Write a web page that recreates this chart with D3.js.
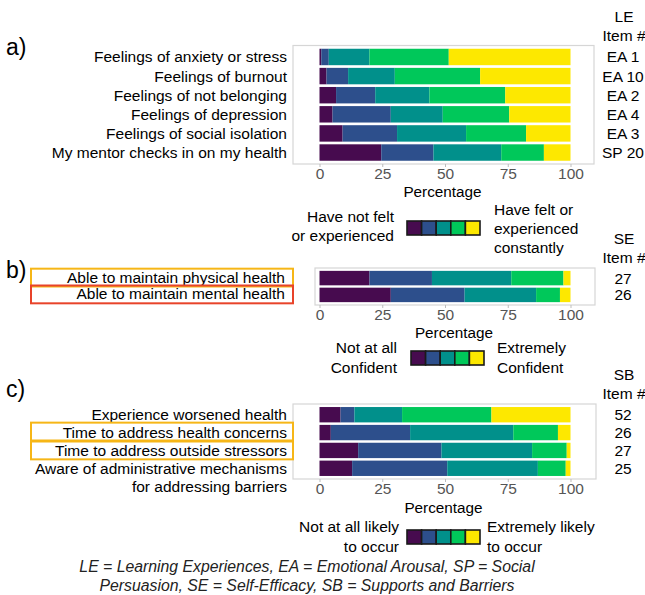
<!DOCTYPE html>
<html>
<head>
<meta charset="utf-8">
<script src="https://cdn.jsdelivr.net/npm/d3@7"></script>
<style>
  body { margin: 0; background: #fff; }
  text { font-family: "Liberation Sans", Arial, sans-serif; }
</style>
</head>
<body>
<div id="chart"></div>
<script>
var svgWidth = 645;
var svgHeight = 595;

// five response levels, low -> high
var levelColors = ["#470b4f", "#2d4f8c", "#01908b", "#00c85a", "#fde800"];

// panel a) learning experiences
var itemsA = ["Feelings of anxiety or stress", "Feelings of burnout", "Feelings of not belonging",
              "Feelings of depression", "Feelings of social isolation", "My mentor checks in on my health"];
var codesA = ["EA 1", "EA 10", "EA 2", "EA 4", "EA 3", "SP 20"];
var valuesA = [
  [0.7, 3.0, 16.2, 31.6, 48.5],
  [2.8, 8.6, 18.6, 34.0, 36.0],
  [6.6, 15.6, 21.6, 30.2, 26.0],
  [5.2, 23.2, 20.7, 26.5, 24.4],
  [9.2, 21.7, 27.5, 23.9, 17.7],
  [24.6, 20.8, 27.0, 17.0, 10.6]
];

// panel b) self-efficacy
var itemsB = ["Able to maintain physical health", "Able to maintain mental health"];
var codesB = ["27", "26"];
var valuesB = [
  [19.9, 24.9, 31.6, 20.8, 2.8],
  [28.4, 29.4, 28.5, 9.5, 4.2]
];

// panel c) supports and barriers
var itemsC = ["Experience worsened health", "Time to address health concerns",
              "Time to address outside stressors", "Aware of administrative mechanisms"];
var codesC = ["52", "26", "27", "25"];
var valuesC = [
  [8.4, 5.5, 19.0, 35.6, 31.5],
  [4.5, 31.6, 41.1, 17.8, 5.0],
  [15.4, 33.2, 36.1, 13.8, 1.5],
  [13.0, 37.9, 36.1, 11.1, 1.9]
];

var xTicks = [0, 25, 50, 75, 100];

var fs = "15.5px";

var svg = d3.select("#chart")
  .append("svg")
  .attr("width", svgWidth)
  .attr("height", svgHeight);

var x = d3.scaleLinear().domain([0, 100]).range([319.5, 570.5]);

function drawPanel(opt) {
  var g = svg.append("g");
  var y = d3.scalePoint()
    .domain(opt.items)
    .range([opt.top, opt.bottom])
    .padding(0.6);
  var barH = y.step() * 0.86;

  // panel frame
  g.append("rect")
    .attr("x", opt.left).attr("y", opt.top)
    .attr("width", opt.right - opt.left).attr("height", opt.bottom - opt.top)
    .attr("fill", "none").attr("stroke", "#d6d6d6").attr("stroke-width", 1.2);

  // stacked bars
  opt.values.forEach(function (row, i) {
    var stacked = d3.cumsum(row);
    row.forEach(function (v, j) {
      var x0 = j === 0 ? 0 : stacked[j - 1];
      g.append("rect")
        .attr("x", x(x0))
        .attr("y", y(opt.items[i]) - barH / 2)
        .attr("width", x(x0 + v) - x(x0))
        .attr("height", barH)
        .attr("fill", levelColors[j]);
    });
  });

  // x axis
  var axis = g.append("g")
    .attr("transform", `translate(0, ${opt.bottom})`)
    .call(d3.axisBottom(x).tickValues(xTicks).tickSize(3).tickPadding(1));
  axis.select(".domain").remove();
  axis.selectAll("line").attr("stroke", "#bdbdbd");
  axis.selectAll("text")
    .attr("fill", "#555")
    .style("font-size", "15.5px")
    .style("font-family", "Liberation Sans, Arial, sans-serif");

  g.append("text")
    .attr("x", (opt.left + opt.right) / 2 - 1)
    .attr("y", opt.titleY)
    .attr("dy", "0.35em")
    .attr("text-anchor", "middle")
    .style("font-size", "15.3px")
    .text("Percentage");

  // item labels
  opt.items.forEach(function (d, i) {
    g.append("text")
      .attr("x", opt.labelX)
      .attr("y", y(d) + (opt.labelShift || 0))
      .attr("dy", "0.35em")
      .attr("text-anchor", "end")
      .style("font-size", fs)
      .text(d);
    g.append("text")
      .attr("x", 623)
      .attr("y", y(d))
      .attr("dy", "0.35em")
      .attr("text-anchor", "middle")
      .style("font-size", fs)
      .text(opt.codes[i]);
  });

  // item code header
  opt.header.forEach(function (t, i) {
    g.append("text")
      .attr("x", 624).attr("y", opt.headerY[i])
      .attr("dy", "0.35em").attr("text-anchor", "middle")
      .style("font-size", fs).text(t);
  });

  // panel tag
  g.append("text")
    .attr("x", 6).attr("y", opt.tagY)
    .attr("dy", "0.35em")
    .style("font-size", "23px")
    .text(opt.tag);

  return y;
}

function drawLegend(kx, ky, leftText, leftX, leftYs, rightText, rightX, rightYs) {
  var g = svg.append("g");
  var kw = 14.6, kh = 14;
  levelColors.forEach(function (c, i) {
    g.append("rect")
      .attr("x", kx + i * kw).attr("y", ky)
      .attr("width", kw).attr("height", kh)
      .attr("fill", c).attr("stroke", "#1a1a1a").attr("stroke-width", 1.6);
  });
  leftText.forEach(function (t, i) {
    g.append("text").attr("x", leftX).attr("y", leftYs[i]).attr("dy", "0.35em")
      .attr("text-anchor", "end").style("font-size", fs).text(t);
  });
  rightText.forEach(function (t, i) {
    g.append("text").attr("x", rightX).attr("y", rightYs[i]).attr("dy", "0.35em")
      .style("font-size", fs).text(t);
  });
}

// a)
drawPanel({
  items: itemsA, codes: codesA, values: valuesA,
  left: 293, right: 594, top: 45.5, bottom: 164,
  labelX: 287, titleY: 192, tag: "a)", tagY: 47,
  header: ["LE", "Item #"], headerY: [17, 36]
});
drawLegend(407, 221, ["Have not felt", "or experienced"], 394, [217, 236],
  ["Have felt or", "experienced", "constantly"], 494, [210, 229, 248]);

// b)
var yB = drawPanel({
  items: itemsB, codes: codesB, values: valuesB,
  left: 315, right: 595, top: 268, bottom: 305,
  labelX: 285, titleY: 333, tag: "b)", tagY: 270, labelShift: -1,
  header: ["SE", "Item #"], headerY: [239, 258]
});
drawLegend(411, 351, ["Not at all", "Confident"], 397, [348, 368],
  ["Extremely", "Confident"], 497, [348, 368]);

// c)
var yC = drawPanel({
  items: itemsC, codes: codesC, values: valuesC,
  left: 293, right: 596, top: 404, bottom: 479,
  labelX: 287, titleY: 508, tag: "c)", tagY: 389,
  header: ["SB", "Item #"], headerY: [375, 394]
});
svg.append("text")
  .attr("x", 287).attr("y", yC(itemsC[3]) + yC.step())
  .attr("dy", "0.35em").attr("text-anchor", "end")
  .style("font-size", fs)
  .text("for addressing barriers");
drawLegend(407, 530, ["Not at all likely", "to occur"], 399, [527, 547],
  ["Extremely likely", "to occur"], 487, [527, 547]);

// highlight boxes round labels
function highlight(y, item, color) {
  var s = y.step();
  svg.append("rect")
    .attr("x", 31).attr("y", y(item) - s / 2 - 1)
    .attr("width", 262).attr("height", s + 1)
    .attr("fill", "none").attr("stroke", color).attr("stroke-width", 2);
}
highlight(yB, itemsB[0], "#f6b617");
highlight(yB, itemsB[1], "#e8432a");
highlight(yC, itemsC[1], "#f6b617");
highlight(yC, itemsC[2], "#f6b617");

// footnote
var foot = ["LE = Learning Experiences, EA = Emotional Arousal, SP = Social",
            "Persuasion, SE = Self-Efficacy, SB = Supports and Barriers"];
foot.forEach(function (t, i) {
  svg.append("text")
    .attr("x", 307).attr("y", 566 + i * 19.5)
    .attr("dy", "0.35em").attr("text-anchor", "middle")
    .style("font-size", "15.8px").style("font-style", "italic")
    .attr("fill", "#222")
    .text(t);
});
</script>
</body>
</html>
